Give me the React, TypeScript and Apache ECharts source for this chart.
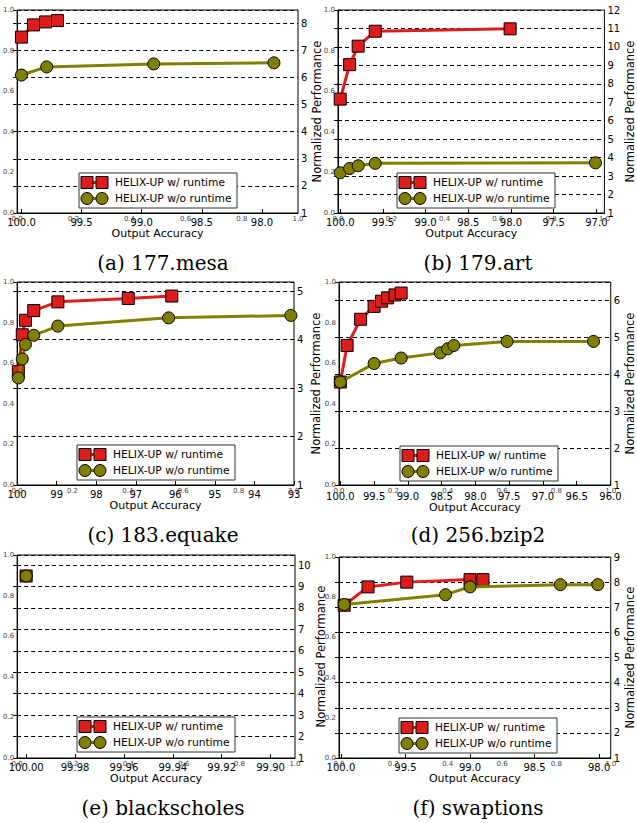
import React, { useEffect, useRef } from "react";
import * as echarts from "echarts";

// ---------- data ----------
const seriesNames = ["HELIX-UP w/ runtime", "HELIX-UP w/o runtime"];
const captions = ["(a) 177.mesa", "(b) 179.art", "(c) 183.equake", "(d) 256.bzip2", "(e) blackscholes", "(f) swaptions"];

// (a) 177.mesa
const mesaAccRuntime = [100.0, 99.9, 99.8, 99.7];
const mesaPerfRuntime = [7.49, 7.94, 8.05, 8.1];
const mesaAccStatic = [100.0, 99.79, 98.9, 97.9];
const mesaPerfStatic = [6.09, 6.39, 6.5, 6.54];
const mesaXTicks = [100.0, 99.5, 99.0, 98.5, 98.0];

// (b) 179.art
const artAccRuntime = [100.0, 99.89, 99.79, 99.59, 98.01];
const artPerfRuntime = [7.17, 9.04, 10.04, 10.85, 10.98];
const artAccStatic = [100.0, 99.89, 99.79, 99.59, 97.01];
const artPerfStatic = [3.18, 3.41, 3.56, 3.69, 3.72];
const artXTicks = [100.0, 99.5, 99.0, 98.5, 98.0, 97.5, 97.0];

// (c) 183.equake
const equakeAccRuntime = [99.97, 99.87, 99.79, 99.58, 98.97, 97.19, 96.09];
const equakePerfRuntime = [3.34, 4.1, 4.4, 4.6, 4.78, 4.85, 4.9];
const equakeAccStatic = [99.97, 99.87, 99.79, 99.58, 98.97, 96.17, 93.08];
const equakePerfStatic = [3.21, 3.6, 3.9, 4.09, 4.28, 4.45, 4.5];
const equakeXTicks = [100, 99, 98, 97, 96, 95, 94, 93];

// (d) 256.bzip2
const bzipAccRuntime = [100.0, 99.9, 99.7, 99.5, 99.39, 99.3, 99.19, 99.1];
const bzipPerfRuntime = [3.79, 4.78, 5.49, 5.84, 5.98, 6.07, 6.15, 6.2];
const bzipAccStatic = [100.0, 99.5, 99.1, 98.52, 98.41, 98.32, 97.53, 96.25];
const bzipPerfStatic = [3.79, 4.29, 4.44, 4.58, 4.69, 4.78, 4.89, 4.89];
const bzipXTicks = [100.0, 99.5, 99.0, 98.5, 98.0, 97.5, 97.0, 96.5, 96.0];

// (e) blackscholes
const bsAccRuntime = [100.0];
const bsPerfRuntime = [9.49];
const bsAccStatic = [100.0];
const bsPerfStatic = [9.49];
const bsXTicks = [100.0, 99.98, 99.96, 99.94, 99.92, 99.9];

// (f) swaptions
const swAccRuntime = [99.975, 99.79, 99.49, 99.0, 98.9];
const swPerfRuntime = [7.08, 7.81, 8.0, 8.1, 8.1];
const swAccStatic = [99.975, 99.19, 99.0, 98.3, 98.01];
const swPerfStatic = [7.11, 7.5, 7.81, 7.9, 7.9];
const swXTicks = [100.0, 99.5, 99.0, 98.5, 98.0];

// ---------- layout / styling ----------
const RED = "#dd1c1c";
const OLIVE = "#808000";
const SANS = "DejaVu Sans";

const panels = [
  { grid: [17, 10, 281, 203], x: [97.7, 100.036], dec: 1, ticks: mesaXTicks, yMax: 8.49, gapY: 12, xm: 4,
    legend: [79, 173], cap: [163, 263],
    r: [mesaAccRuntime, mesaPerfRuntime], s: [mesaAccStatic, mesaPerfStatic] },
  { grid: [338, 10, 277, 203], x: [96.906, 100.026], dec: 1, ticks: artXTicks, yMax: 12, gapY: 13, xm: 4,
    legend: [397, 173], cap: [478, 263],
    r: [artAccRuntime, artPerfRuntime], s: [artAccStatic, artPerfStatic] },
  { grid: [15, 282, 279, 203], x: [93.0, 100.0], dec: 0, ticks: equakeXTicks, yMax: 5.19, gapY: 16, xm: 4,
    legend: [77, 445], cap: [163, 535],
    r: [equakeAccRuntime, equakePerfRuntime], s: [equakeAccStatic, equakePerfStatic] },
  { grid: [339, 282, 281, 203], x: [95.995, 100.02], dec: 1, ticks: bzipXTicks, yMax: 6.5, gapY: 10, xm: 6,
    legend: [400, 446], cap: [478, 535],
    r: [bzipAccRuntime, bzipPerfRuntime], s: [bzipAccStatic, bzipPerfStatic] },
  { grid: [15, 555, 280, 203], x: [99.89, 100.0037], dec: 2, ticks: bsXTicks, yMax: 10.47, gapY: 17, xm: 4,
    legend: [77, 717], cap: [163, 808],
    r: [bsAccRuntime, bsPerfRuntime], s: [bsAccStatic, bsPerfStatic] },
  { grid: [339, 557, 277, 201], x: [97.91, 100.015], dec: 1, ticks: swXTicks, yMax: 9, gapY: 12, xm: 4,
    legend: [399, 718], cap: [478, 808],
    r: [swAccRuntime, swPerfRuntime], s: [swAccStatic, swPerfStatic] },
];

function zip(a: number[], b: number[]) {
  return a.map((v, i) => [v, b[i]]);
}

const LZ = 100;

function legendGraphic(x: number, y: number) {
  const row = (cy: number, isSquare: boolean, color: string, label: string) => {
    const mk = (cx: number) =>
      isSquare
        ? { type: "rect", z: LZ + 2, shape: { x: cx - 6, y: cy - 6, width: 12, height: 12 }, style: { fill: color, stroke: "#000", lineWidth: 1 } }
        : { type: "circle", z: LZ + 2, shape: { cx, cy, r: 6 }, style: { fill: color, stroke: "#000", lineWidth: 1 } };
    return [
      { type: "line", z: LZ + 1, shape: { x1: 8, y1: cy, x2: 23, y2: cy }, style: { stroke: color, lineWidth: 3 } },
      mk(8),
      mk(23),
      { type: "text", z: LZ + 2, style: { text: label, x: 36, y: cy, verticalAlign: "middle", font: `10.7px "${SANS}"`, fill: "#000" } },
    ];
  };
  return {
    type: "group",
    x,
    y,
    z: LZ,
    children: [
      { type: "rect", z: LZ, shape: { x: 0, y: 0, width: 158, height: 35 }, style: { fill: "#fff", stroke: "#333", lineWidth: 1 } },
      ...row(9.5, true, RED, seriesNames[0]),
      ...row(25.5, false, OLIVE, seriesNames[1]),
    ],
  };
}

export default function App() {
  const ref = useRef<HTMLDivElement>(null);
  useEffect(() => {
    if (!ref.current) return;
    const chart = echarts.init(ref.current, undefined, { renderer: "svg" });
    const grid: any[] = [];
    const xAxis: any[] = [];
    const yAxis: any[] = [];
    const series: any[] = [];
    const graphic: any[] = [];

    panels.forEach((p, i) => {
      const [l, t, w, h] = p.grid;
      grid.push({ left: l, top: t, width: w, height: h, show: true, borderColor: "#000", borderWidth: 1, backgroundColor: "transparent" });
      xAxis.push({
        gridIndex: i,
        type: "value",
        inverse: true,
        min: p.x[0],
        max: p.x[1],
        position: "bottom",
        axisLine: { show: true, lineStyle: { color: "#000", width: 1 } },
        axisTick: { show: true, inside: true, length: 4, customValues: p.ticks, lineStyle: { color: "#000" } },
        axisLabel: {
          customValues: p.ticks,
          showMinLabel: true,
          showMaxLabel: true,
          formatter: (v: number) => v.toFixed(p.dec),
          fontSize: 10,
          color: "#000",
          margin: p.xm,
          fontFamily: SANS,
        },
        splitLine: { show: false },
        name: "Output Accuracy",
        nameLocation: "middle",
        nameGap: 13,
        nameTextStyle: { fontSize: 11, color: "#000", fontFamily: SANS },
      });
      xAxis.push({
        gridIndex: i,
        type: "value",
        min: 0,
        max: 1,
        interval: 0.2,
        position: "bottom",
        axisLine: { show: false },
        axisTick: { show: false },
        axisLabel: { fontSize: 7, color: "#444", margin: 2, formatter: (v: number) => v.toFixed(1), fontFamily: SANS },
        splitLine: { show: false },
      });
      yAxis.push({
        gridIndex: i,
        type: "value",
        position: "right",
        min: 1,
        max: p.yMax,
        interval: 1,
        axisLine: { show: true, lineStyle: { color: "#000", width: 1 } },
        axisTick: { show: true, inside: true, length: 4, lineStyle: { color: "#000" } },
        axisLabel: {
          fontSize: 10,
          color: "#000",
          margin: 3,
          fontFamily: SANS,
          formatter: (v: number) => (Math.abs(v - Math.round(v)) < 1e-6 ? String(Math.round(v)) : ""),
        },
        splitLine: { show: true, lineStyle: { color: "#000", type: [4, 3], width: 1 } },
        name: "Normalized Performance",
        nameLocation: "middle",
        nameRotate: 90,
        nameGap: p.gapY,
        nameTextStyle: { fontSize: 11.5, color: "#000", fontFamily: SANS },
      });
      yAxis.push({
        gridIndex: i,
        type: "value",
        position: "left",
        min: 0,
        max: 1,
        interval: 0.2,
        axisLine: { show: false },
        axisTick: { show: false },
        axisLabel: { fontSize: 7, color: "#444", margin: 3, formatter: (v: number) => v.toFixed(1), fontFamily: SANS },
        splitLine: { show: false },
      });

      series.push({
        name: seriesNames[0],
        type: "line",
        xAxisIndex: 2 * i,
        yAxisIndex: 2 * i,
        data: zip(p.r[0], p.r[1]),
        symbol: "rect",
        symbolSize: 12,
        lineStyle: { color: RED, width: 3 },
        itemStyle: { color: RED, borderColor: "#000", borderWidth: 1 },
        z: 3,
      });
      series.push({
        name: seriesNames[1],
        type: "line",
        xAxisIndex: 2 * i,
        yAxisIndex: 2 * i,
        data: zip(p.s[0], p.s[1]),
        symbol: "circle",
        symbolSize: 12,
        lineStyle: { color: OLIVE, width: 3 },
        itemStyle: { color: OLIVE, borderColor: "#000", borderWidth: 1 },
        z: 4,
      });

      graphic.push(legendGraphic(p.legend[0], p.legend[1]));
      graphic.push({
        type: "text",
        x: p.cap[0],
        y: p.cap[1],
        z: LZ,
        style: { text: captions[i], font: '20px "DejaVu Serif"', fill: "#000", align: "center", verticalAlign: "middle" },
      });
    });

    chart.setOption({
      animation: false,
      backgroundColor: "#fff",
      textStyle: { fontFamily: SANS },
      grid,
      xAxis,
      yAxis,
      series,
      graphic,
    });
    return () => chart.dispose();
  }, []);
  return <div ref={ref} style={{ position: "absolute", left: 0, top: 0, width: 637, height: 823 }} />;
}
